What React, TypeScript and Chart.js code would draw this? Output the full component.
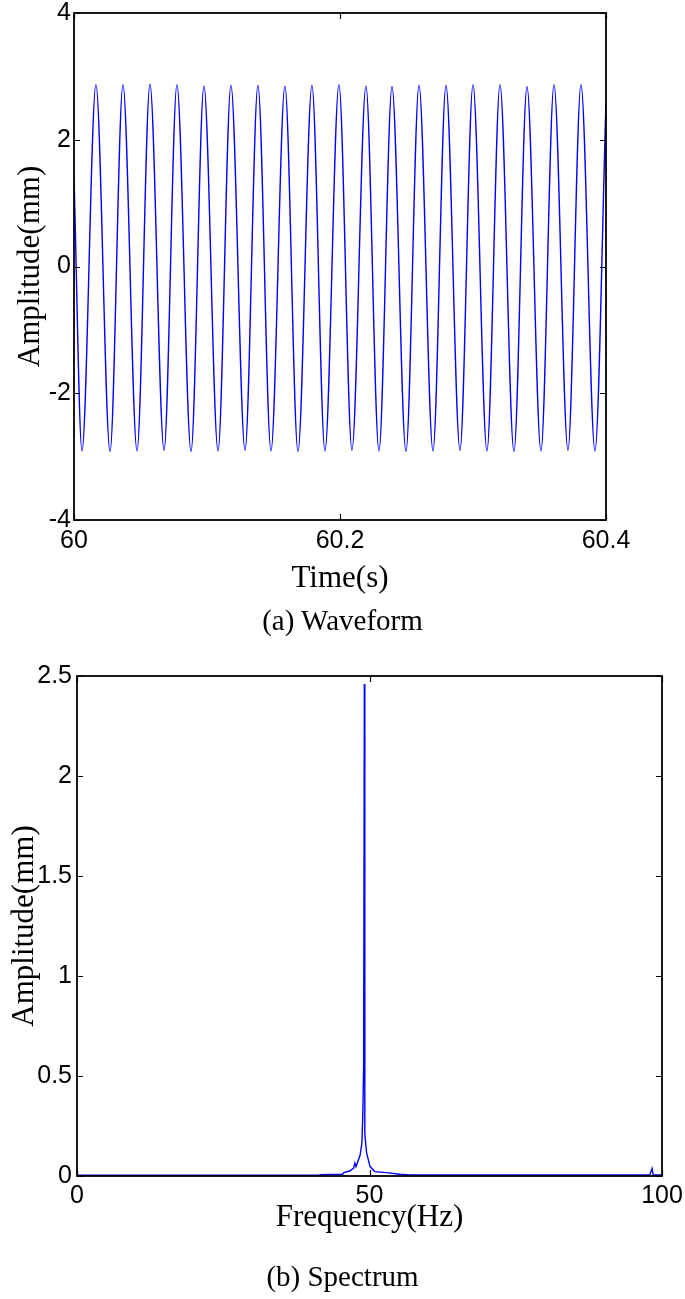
import React, { useEffect, useRef } from "react";
import { Chart, registerables } from "chart.js";

Chart.register(...registerables);

// ---- Waveform data (time in s, amplitude in mm) ----
const waveTime = [
  60.0, 60.006, 60.0165, 60.0271, 60.0368, 60.0474, 60.0571, 60.0677, 60.0774, 60.088,
  60.0977, 60.1083, 60.118, 60.1286, 60.1383, 60.1481, 60.1586, 60.1684, 60.1789, 60.1887,
  60.1992, 60.209, 60.2195, 60.2293, 60.2391, 60.2496, 60.2594, 60.2699, 60.2797, 60.2902,
  60.3, 60.3105, 60.3203, 60.3308, 60.3406, 60.3511, 60.3609, 60.3714, 60.3812, 60.3917,
  60.4,
];
const waveAmp = [
  1.4, -2.91, 2.87, -2.92, 2.87, -2.91, 2.88, -2.9, 2.87, -2.92,
  2.85, -2.91, 2.86, -2.9, 2.86, -2.91, 2.85, -2.92, 2.86, -2.91,
  2.87, -2.9, 2.85, -2.91, 2.84, -2.92, 2.86, -2.91, 2.86, -2.9,
  2.87, -2.91, 2.87, -2.92, 2.84, -2.91, 2.87, -2.9, 2.87, -2.91,
  2.58,
];
const waveXTicks = [60, 60.2, 60.4];
const waveYTicks = [-4, -2, 0, 2, 4];

// ---- Spectrum data (frequency in Hz, amplitude in mm) ----
const specFreq = [
  0, 41.4, 41.6, 45.4, 45.6, 46.6, 47.3, 47.5, 47.7, 48.4, 48.7, 48.85, 49.0, 49.12,
  49.2, 49.5, 50.1, 50.9, 52.9, 55.2, 56.9, 97.9, 98.3, 98.5, 100,
];
const specAmp = [
  0.004, 0.004, 0.007, 0.009, 0.017, 0.025, 0.04, 0.065, 0.047, 0.105, 0.165, 0.3, 0.55, 2.46,
  0.21, 0.115, 0.047, 0.022, 0.017, 0.009, 0.005, 0.005, 0.038, 0.005, 0.005,
];
const specXTicks = [0, 50, 100];
const specYTicks = [0, 0.5, 1, 1.5, 2, 2.5];

const SANS = "'Liberation Sans', Arial, sans-serif";
const SERIF = "'Liberation Serif', 'Times New Roman', serif";
const BLUE = "#0000ff";
const TICK_SIZE = 25;
const TITLE_SIZE = 31;

const boxPlugin = {
  id: "matlabBox",
  afterDraw(chart: any) {
    const { ctx, chartArea: a, scales } = chart;
    const L = 6;
    ctx.save();
    ctx.strokeStyle = "#000";
    ctx.lineWidth = 1.2;
    ctx.beginPath();
    scales.x.ticks.forEach((t: any) => {
      const px = Math.round(scales.x.getPixelForValue(t.value)) + 0.5;
      ctx.moveTo(px, a.bottom);
      ctx.lineTo(px, a.bottom - L);
      ctx.moveTo(px, a.top);
      ctx.lineTo(px, a.top + L);
    });
    scales.y.ticks.forEach((t: any) => {
      const py = Math.round(scales.y.getPixelForValue(t.value)) + 0.5;
      ctx.moveTo(a.left, py);
      ctx.lineTo(a.left + L, py);
      ctx.moveTo(a.right, py);
      ctx.lineTo(a.right - L, py);
    });
    ctx.stroke();
    ctx.lineWidth = 1.8;
    ctx.strokeRect(a.left, a.top, a.right - a.left, a.bottom - a.top);
    ctx.restore();
  },
};

type Cfg = {
  xs: number[];
  ys: number[];
  xMin: number;
  xMax: number;
  yMin: number;
  yMax: number;
  xTicks: number[];
  yTicks: number[];
  xTitle: string;
  yTitle: string;
  yAxisWidth: number;
  xAxisHeight: number;
  padTop: number;
  padRight: number;
  xTickPad: number;
  yTickPad: number;
  xTitlePadBottom: number;
  yTitlePadTop: number;
  monotone: boolean;
};

function buildChart(canvas: HTMLCanvasElement, c: Cfg) {
  const points = c.xs.map((x, i) => ({ x, y: c.ys[i] }));
  return new Chart(canvas, {
    type: "line",
    data: {
      datasets: [
        {
          data: points,
          borderColor: BLUE,
          borderWidth: 1.4,
          pointRadius: 0,
          fill: false,
          tension: 0,
          cubicInterpolationMode: c.monotone ? "monotone" : "default",
        } as any,
      ],
    },
    options: {
      responsive: false,
      animation: false,
      devicePixelRatio: 1,
      layout: { padding: { left: 0, right: c.padRight, top: c.padTop, bottom: 0 } },
      plugins: { legend: { display: false }, tooltip: { enabled: false }, title: { display: false } },
      scales: {
        x: {
          type: "linear",
          min: c.xMin,
          max: c.xMax,
          grid: { display: false, drawTicks: false },
          border: { display: false },
          afterBuildTicks: (s: any) => {
            s.ticks = c.xTicks.map((v) => ({ value: v }));
          },
          afterFit: (s: any) => {
            s.height = c.xAxisHeight;
            s.paddingLeft = 0;
            s.paddingRight = 0;
          },
          ticks: {
            color: "#000",
            padding: c.xTickPad,
            maxRotation: 0,
            autoSkip: false,
            font: { family: SANS, size: TICK_SIZE },
            callback: (v: any) => String(Number(Number(v).toFixed(3))),
          },
          title: {
            display: true,
            text: c.xTitle,
            color: "#000",
            font: { family: SERIF, size: TITLE_SIZE },
            padding: { top: 0, bottom: c.xTitlePadBottom },
          },
        },
        y: {
          type: "linear",
          min: c.yMin,
          max: c.yMax,
          grid: { display: false, drawTicks: false },
          border: { display: false },
          afterBuildTicks: (s: any) => {
            s.ticks = c.yTicks.map((v) => ({ value: v }));
          },
          afterFit: (s: any) => {
            s.width = c.yAxisWidth;
            s.paddingTop = 0;
            s.paddingBottom = 0;
          },
          ticks: {
            color: "#000",
            padding: c.yTickPad,
            autoSkip: false,
            font: { family: SANS, size: TICK_SIZE },
            callback: (v: any) => String(Number(Number(v).toFixed(3))),
          },
          title: {
            display: true,
            text: c.yTitle,
            color: "#000",
            font: { family: SERIF, size: TITLE_SIZE },
            padding: { top: c.yTitlePadTop, bottom: 0 },
          },
        },
      },
    },
    plugins: [boxPlugin],
  } as any);
}

export default function App() {
  const ref1 = useRef<HTMLCanvasElement>(null);
  const ref2 = useRef<HTMLCanvasElement>(null);

  useEffect(() => {
    const c1 = buildChart(ref1.current!, {
      xs: waveTime,
      ys: waveAmp,
      xMin: 60,
      xMax: 60.4,
      yMin: -4,
      yMax: 4,
      xTicks: waveXTicks,
      yTicks: waveYTicks,
      xTitle: "Time(s)",
      yTitle: "Amplitude(mm)",
      yAxisWidth: 74,
      xAxisHeight: 130,
      padTop: 13,
      padRight: 79,
      xTickPad: 6,
      yTickPad: 3,
      xTitlePadBottom: 53,
      yTitlePadTop: 12,
      monotone: true,
    });
    const c2 = buildChart(ref2.current!, {
      xs: specFreq,
      ys: specAmp,
      xMin: 0,
      xMax: 100,
      yMin: 0,
      yMax: 2.5,
      xTicks: specXTicks,
      yTicks: specYTicks,
      xTitle: "Frequency(Hz)",
      yTitle: "Amplitude(mm)",
      yAxisWidth: 77,
      xAxisHeight: 123,
      padTop: 26,
      padRight: 23,
      xTickPad: 5,
      yTickPad: 5,
      xTitlePadBottom: 63,
      yTitlePadTop: 6,
      monotone: false,
    });
    return () => {
      c1.destroy();
      c2.destroy();
    };
  }, []);

  const caption: React.CSSProperties = {
    position: "absolute",
    left: 0,
    width: 685,
    textAlign: "center",
    fontFamily: SERIF,
    fontSize: 29,
    lineHeight: "30px",
    color: "#000",
  };

  return (
    <div style={{ position: "absolute", left: 0, top: 0, width: 685, height: 1299, background: "#fff" }}>
      <canvas ref={ref1} width={685} height={650} style={{ position: "absolute", left: 0, top: 0, width: 685, height: 650 }} />
      <div style={{ ...caption, top: 605 }}>(a) Waveform</div>
      <canvas ref={ref2} width={685} height={649} style={{ position: "absolute", left: 0, top: 650, width: 685, height: 649 }} />
      <div style={{ ...caption, top: 1261 }}>(b) Spectrum</div>
    </div>
  );
}
